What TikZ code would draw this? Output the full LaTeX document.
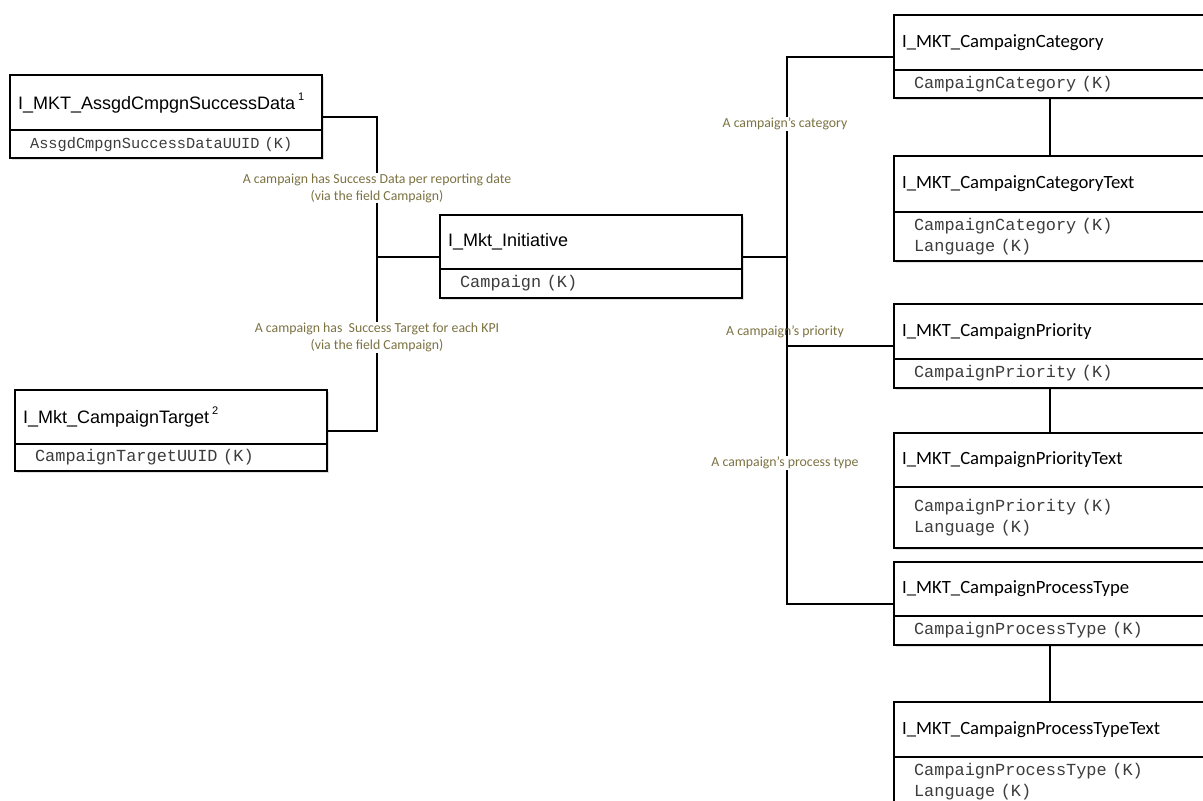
\documentclass[tikz,border=0pt]{standalone}
\usepackage{fontspec}
\setmainfont{Carlito}
\newfontfamily\arialf{Liberation Sans}
\setmonofont{Liberation Mono}
\usetikzlibrary{calc,shadows}
\definecolor{lblc}{RGB}{124,114,66}
\definecolor{fldc}{RGB}{60,60,60}
\tikzset{
  boxbase/.style={draw, line width=2.2pt, fill=white, anchor=north west, inner ysep=0pt, align=left,
    drop shadow={shadow xshift=2pt, shadow yshift=-2pt, opacity=0.25}},
  ttlA/.style={boxbase, inner xsep=8pt, font=\arialf\fontsize{18}{21}\selectfont},
  ttlC/.style={boxbase, inner xsep=8pt, font=\fontsize{18.7}{21}\selectfont},
  fld/.style={boxbase, inner xsep=20pt, text=fldc, font=\ttfamily\fontsize{16.9}{21}\selectfont},
  conn/.style={line width=2pt},
  lbl/.style={text=lblc, align=center, inner sep=1pt, font=\fontsize{13.8}{17}\selectfont},
}
\newcommand\supn[1]{\,\raisebox{0.5em}{\fontsize{11}{11}\selectfont #1}}
\begin{document}
\begin{tikzpicture}[x=1pt,y=-1pt]
\clip (0,0) rectangle (1203,801);
\fill[white] (0,0) rectangle (1203,801);

% left boxes
\node[ttlA, minimum width=312pt, text width=296pt, minimum height=55pt] (asst) at (9,74) {I\_MKT\_AssgdCmpgnSuccessData\supn{1}};
\node[fld, font=\ttfamily\fontsize{15.3}{21}\selectfont, minimum width=312pt, text width=272pt, minimum height=28pt] (assf) at (9,129) {AssgdCmpgnSuccessDataUUID (K)};

\node[ttlA, minimum width=312pt, text width=296pt, minimum height=54pt] (tgtt) at (14,389) {I\_Mkt\_CampaignTarget\supn{2}};
\node[fld, minimum width=312pt, text width=272pt, minimum height=27pt] (tgtf) at (14,443) {CampaignTargetUUID (K)};

% central box
\node[ttlA, minimum width=302pt, text width=286pt, minimum height=54pt] (init) at (439,214) {I\_Mkt\_Initiative};
\node[fld, minimum width=302pt, text width=262pt, minimum height=29pt] (inif) at (439,268) {Campaign (K)};

% right boxes
\node[ttlC, minimum width=312pt, text width=296pt, minimum height=55pt] (catt) at (893,14) {I\_MKT\_CampaignCategory};
\node[fld, minimum width=312pt, text width=272pt, minimum height=28pt] (catf) at (893,69) {CampaignCategory (K)};

\node[ttlC, minimum width=312pt, text width=296pt, minimum height=56pt] (cattxt) at (893,155) {I\_MKT\_CampaignCategoryText};
\node[fld, minimum width=312pt, text width=272pt, minimum height=49pt] (cattxtf) at (893,211) {CampaignCategory (K)\\Language (K)};

\node[ttlC, minimum width=312pt, text width=296pt, minimum height=55pt] (prit) at (893,303) {I\_MKT\_CampaignPriority};
\node[fld, minimum width=312pt, text width=272pt, minimum height=29pt] (prif) at (893,358) {CampaignPriority (K)};

\node[ttlC, minimum width=312pt, text width=296pt, minimum height=54pt] (pritxt) at (893,432) {I\_MKT\_CampaignPriorityText};
\node[fld, minimum width=312pt, text width=272pt, minimum height=61pt] (pritxtf) at (893,486) {CampaignPriority (K)\\Language (K)};

\node[ttlC, minimum width=312pt, text width=296pt, minimum height=54pt] (prct) at (893,561) {I\_MKT\_CampaignProcessType};
\node[fld, minimum width=312pt, text width=272pt, minimum height=29pt] (prcf) at (893,615) {CampaignProcessType (K)};

\node[ttlC, minimum width=312pt, text width=296pt, minimum height=55pt] (prctxt) at (893,701) {I\_MKT\_CampaignProcessTypeText};
\node[fld, minimum width=312pt, text width=272pt, minimum height=50pt] (prctxtf) at (893,756) {CampaignProcessType (K)\\Language (K)};

% attach points (vertical centre of each whole box)
\coordinate (assE) at ($(asst.north east)!.5!(assf.south east)$);
\coordinate (tgtE) at ($(tgtt.north east)!.5!(tgtf.south east)$);
\coordinate (iniW) at ($(init.north west)!.5!(inif.south west)$);
\coordinate (iniE) at ($(init.north east)!.5!(inif.south east)$);
\coordinate (catW) at ($(catt.north west)!.5!(catf.south west)$);
\coordinate (priW) at ($(prit.north west)!.5!(prif.south west)$);
\coordinate (prcW) at ($(prct.north west)!.5!(prcf.south west)$);
\coordinate (jL) at ($(iniW)+(-62,0)$);
\coordinate (jR) at ($(iniE)+(44,0)$);

% connectors
\draw[conn] (assE) -| (jL) |- (tgtE);
\draw[conn] (jL) -- (iniW);
\draw[conn] (catW) -| (jR) |- (prcW);
\draw[conn] (iniE) -- (jR);
\draw[conn] (priW) -- (priW -| jR);
\draw[conn] (catf.south) -- (cattxt.north);
\draw[conn] (prif.south) -- (pritxt.north);
\draw[conn] (prcf.south) -- (prctxt.north);

% labels
\node[lbl, fill=white] (l1) at (377,188) {A campaign has Success Data per reporting date\\(via the field Campaign)};
\node[lbl, fill=white] (l2) at (377,337.5) {A campaign has\ \ Success Target for each KPI\\(via the field Campaign)};
\node[lbl, fill=white] (l3) at (785,124) {A campaign's category};
\node[lbl] (l4) at (785,332) {A campaign's priority};
\node[lbl, fill=white] (l5) at (785,463) {A campaign's process type};
\end{tikzpicture}
\end{document}
